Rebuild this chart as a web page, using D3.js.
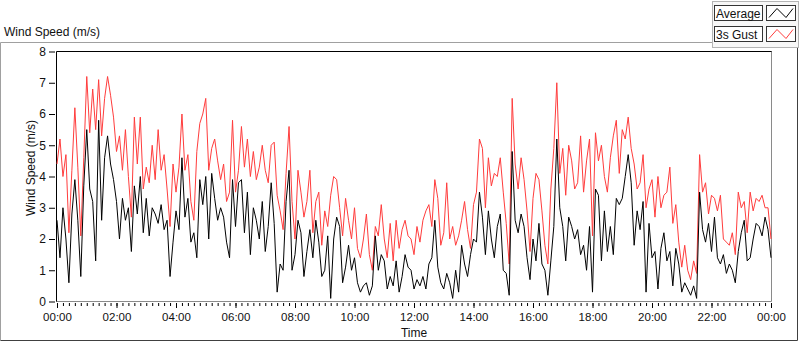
<!DOCTYPE html>
<html><head><meta charset="utf-8">
<script src="https://cdn.jsdelivr.net/npm/d3@7"></script>
<style>
body{margin:0;background:#fff;}
svg{display:block;font-family:"Liberation Sans",Arial,sans-serif;}
</style></head><body>
<svg id="chart" width="800" height="342"></svg>
<script>
// one sample every 6 minutes
var stepMinutes = 6;

var gust = [
  4.4,5.2,4.0,4.7,2.2,4.2,6.2,4.3,2.1,4.6,
  7.2,5.4,6.8,5.5,7.1,5.3,6.5,7.2,6.6,5.9,
  4.8,5.3,4.2,5.5,4.0,2.7,5.9,4.4,5.9,3.6,
  4.3,3.8,5.0,3.9,5.5,4.2,4.7,3.6,2.4,4.4,
  3.5,4.3,6.0,4.2,4.7,3.2,2.6,4.8,5.7,6.0,
  6.5,4.2,4.9,5.2,4.5,3.9,4.4,3.2,3.5,5.8,
  3.5,4.2,5.6,4.3,5.2,4.0,4.8,3.9,4.3,5.0,
  4.2,3.8,5.0,5.1,3.4,2.9,2.3,4.1,5.6,3.2,
  2.0,4.2,3.5,2.7,3.2,4.2,2.2,3.2,3.5,1.8,
  2.9,2.4,3.4,4.0,3.9,3.0,2.1,3.3,2.6,2.0,
  3.0,1.7,1.4,2.0,2.8,1.5,1.0,2.4,2.1,3.1,
  2.0,1.4,2.5,1.3,2.6,1.7,2.3,2.6,2.1,2.0,
  1.5,2.4,1.9,2.6,2.9,3.1,2.4,3.9,3.3,1.8,
  2.2,3.8,2.0,2.4,1.8,2.1,2.6,3.2,2.3,1.7,
  3.1,3.5,5.2,4.9,3.0,4.6,3.7,4.1,4.0,4.6,
  3.5,2.5,1.2,6.5,4.4,3.6,4.6,3.9,2.9,1.6,
  3.3,4.1,3.9,2.9,1.8,1.2,3.6,4.9,7.0,4.1,
  4.9,3.4,5.0,4.5,3.6,3.8,5.3,3.5,4.5,5.2,
  2.1,5.4,4.5,5.0,4.0,3.5,4.6,5.3,5.8,4.1,
  5.5,5.2,5.9,4.9,4.4,3.6,3.8,4.7,3.0,3.6,
  3.9,2.7,4.0,3.0,3.4,3.5,4.3,2.5,3.1,1.9,
  1.1,1.8,1.0,0.7,1.3,0.9,4.7,3.5,3.8,2.8,
  3.4,3.3,2.9,3.4,2.0,1.9,1.8,2.2,1.5,3.5,
  3.0,3.2,2.2,3.5,2.9,3.3,3.2,3.4,3.0,3.0,2.0
];

var avg = [
  2.6,1.4,3.0,2.0,0.6,2.8,3.9,2.6,0.8,3.7,
  5.5,3.6,3.2,1.3,5.8,2.6,4.6,5.3,4.4,3.9,
  3.2,2.0,3.3,2.6,3.0,1.6,3.7,2.8,4.0,2.2,
  3.3,2.1,3.0,2.8,2.5,3.1,2.3,2.6,0.8,1.9,
  2.9,2.3,4.6,2.7,3.3,1.9,2.2,1.4,3.9,3.1,
  4.0,2.0,4.1,3.3,2.6,3.0,2.7,1.9,1.4,3.9,
  2.4,3.8,3.9,2.2,3.5,1.5,3.0,2.6,2.0,3.2,
  1.6,2.4,3.8,2.5,0.3,1.2,1.0,3.2,4.2,1.0,
  1.5,2.6,2.2,0.8,1.6,2.3,1.4,2.6,1.9,0.8,
  1.0,2.1,0.1,2.0,2.7,2.4,0.6,1.1,1.8,1.0,
  1.4,0.6,0.3,0.5,0.6,0.2,0.5,2.1,1.0,1.5,
  1.3,0.4,0.8,0.5,1.3,0.3,0.8,1.5,1.1,1.0,
  0.4,0.7,0.5,0.8,0.4,1.2,1.4,2.6,1.1,0.6,
  0.4,0.9,0.6,0.1,1.0,0.3,1.8,1.2,0.8,1.5,
  2.0,1.9,3.5,2.7,1.5,2.9,2.0,1.4,2.4,2.8,
  1.0,0.9,0.2,4.8,2.6,2.2,2.8,2.4,1.4,0.7,
  2.0,1.3,2.5,1.2,1.0,0.2,1.3,2.4,5.2,3.0,
  2.4,1.3,2.7,2.4,2.0,2.3,1.5,1.8,1.0,2.4,
  0.3,3.6,3.4,1.3,2.9,1.6,2.4,1.5,3.3,3.1,
  3.3,4.0,4.7,3.8,1.8,2.9,2.3,3.2,0.3,2.5,
  1.4,1.6,0.4,1.7,2.2,1.3,1.6,0.5,1.7,1.2,
  0.3,0.6,0.4,0.2,0.5,0.1,3.5,2.3,1.9,2.5,
  1.6,2.7,1.4,1.2,1.5,0.9,1.2,1.0,0.6,1.6,
  2.2,2.6,1.3,1.4,2.0,2.5,2.4,2.1,2.7,2.3,1.4
];

var timeLabels = ["00:00","02:00","04:00","06:00","08:00","10:00","12:00",
                  "14:00","16:00","18:00","20:00","22:00","00:00"];
var speedTicks = [0,1,2,3,4,5,6,7,8];
var seriesNames = ["Average","3s Gust"];
var seriesColors = ["#000000","#ff3c3c"];

var svg = d3.select('#chart');

// outer panel (grey top/left, dark right/bottom)
svg.append('path').attr('d','M0.5,340.5 V42.5 H712')
  .attr('fill','none').attr('stroke','#a0a0a0');
svg.append('path').attr('d','M797.5,48 V340.5 H0.5')
  .attr('fill','none').attr('stroke','#404040');

svg.append('text').attr('x',4).attr('y',36)
  .style('font-size','12px').attr('fill','#111').text('Wind Speed (m/s)');

var x = d3.scaleLinear().domain([0,1440]).range([57,771]);
var y = d3.scaleLinear().domain([0,8]).range([301.5,51.5]);

// frame
svg.append('path').attr('d','M56.5,302 V51.5 H772')
  .attr('fill','none').attr('stroke','#000');
svg.append('path').attr('d','M771.5,51.5 V301.5 H56.5')
  .attr('fill','none').attr('stroke','#8a8a8a');

var line = d3.line()
  .x(function(d,i){ return x(i*stepMinutes); })
  .y(function(d){ return y(d); });

svg.append('path').datum(gust)
  .attr('d',line).attr('fill','none')
  .attr('stroke',seriesColors[1]).attr('stroke-width',1);
svg.append('path').datum(avg)
  .attr('d',line).attr('fill','none')
  .attr('stroke',seriesColors[0]).attr('stroke-width',1);

// y axis
var yAxis = svg.append('g').attr('transform','translate(55,0)')
  .call(d3.axisLeft(y).tickValues(speedTicks).tickSize(6).tickPadding(3));
yAxis.select('.domain').remove();
yAxis.selectAll('text').style('font-size','12px').style('font-family','"Liberation Sans",Arial,sans-serif').attr('fill','#111');

// x axis, minor then major ticks
var xMinor = svg.append('g').attr('transform','translate(0,303)')
  .call(d3.axisBottom(x).tickValues(d3.range(0,1441,12)).tickSize(3).tickFormat(''));
xMinor.select('.domain').remove();

var xAxis = svg.append('g').attr('transform','translate(0,303)')
  .call(d3.axisBottom(x).tickValues(d3.range(0,1441,120)).tickSize(5).tickPadding(5)
    .tickFormat(function(d,i){ return timeLabels[i]; }));
xAxis.select('.domain').remove();
xAxis.selectAll('text').style('font-size','11.5px').style('font-family','"Liberation Sans",Arial,sans-serif').attr('fill','#111');

svg.append('text').attr('x',414).attr('y',337).attr('text-anchor','middle')
  .style('font-size','12px').attr('fill','#111').text('Time');

svg.append('text').attr('transform','translate(35,168) rotate(-90)')
  .attr('text-anchor','middle').style('font-size','12px').attr('fill','#111')
  .text('Wind Speed (m/s)');

// legend
var legend = svg.append('g');
legend.append('rect').attr('x',712.5).attr('y',1.5).attr('width',86).attr('height',46)
  .attr('fill','#f7f7f7').attr('stroke','#b4b4b4');

seriesNames.forEach(function(name,i){
  var top = 5.5 + i*21;
  legend.append('rect').attr('x',714.5).attr('y',top).attr('width',48).attr('height',15)
    .attr('fill','#fff').attr('stroke','#333');
  legend.append('text').attr('x',716).attr('y',top+12)
    .style('font-size','12px').attr('fill','#111').text(name);
  legend.append('rect').attr('x',766.5).attr('y',top).attr('width',29).attr('height',15)
    .attr('fill','#fff').attr('stroke','#333');
  legend.append('polyline')
    .attr('points',[[769,top+12],[777,top+3],[786,top+12],[793,top+3]].join(' '))
    .attr('fill','none').attr('stroke',seriesColors[i]);
});
</script>
</body></html>
